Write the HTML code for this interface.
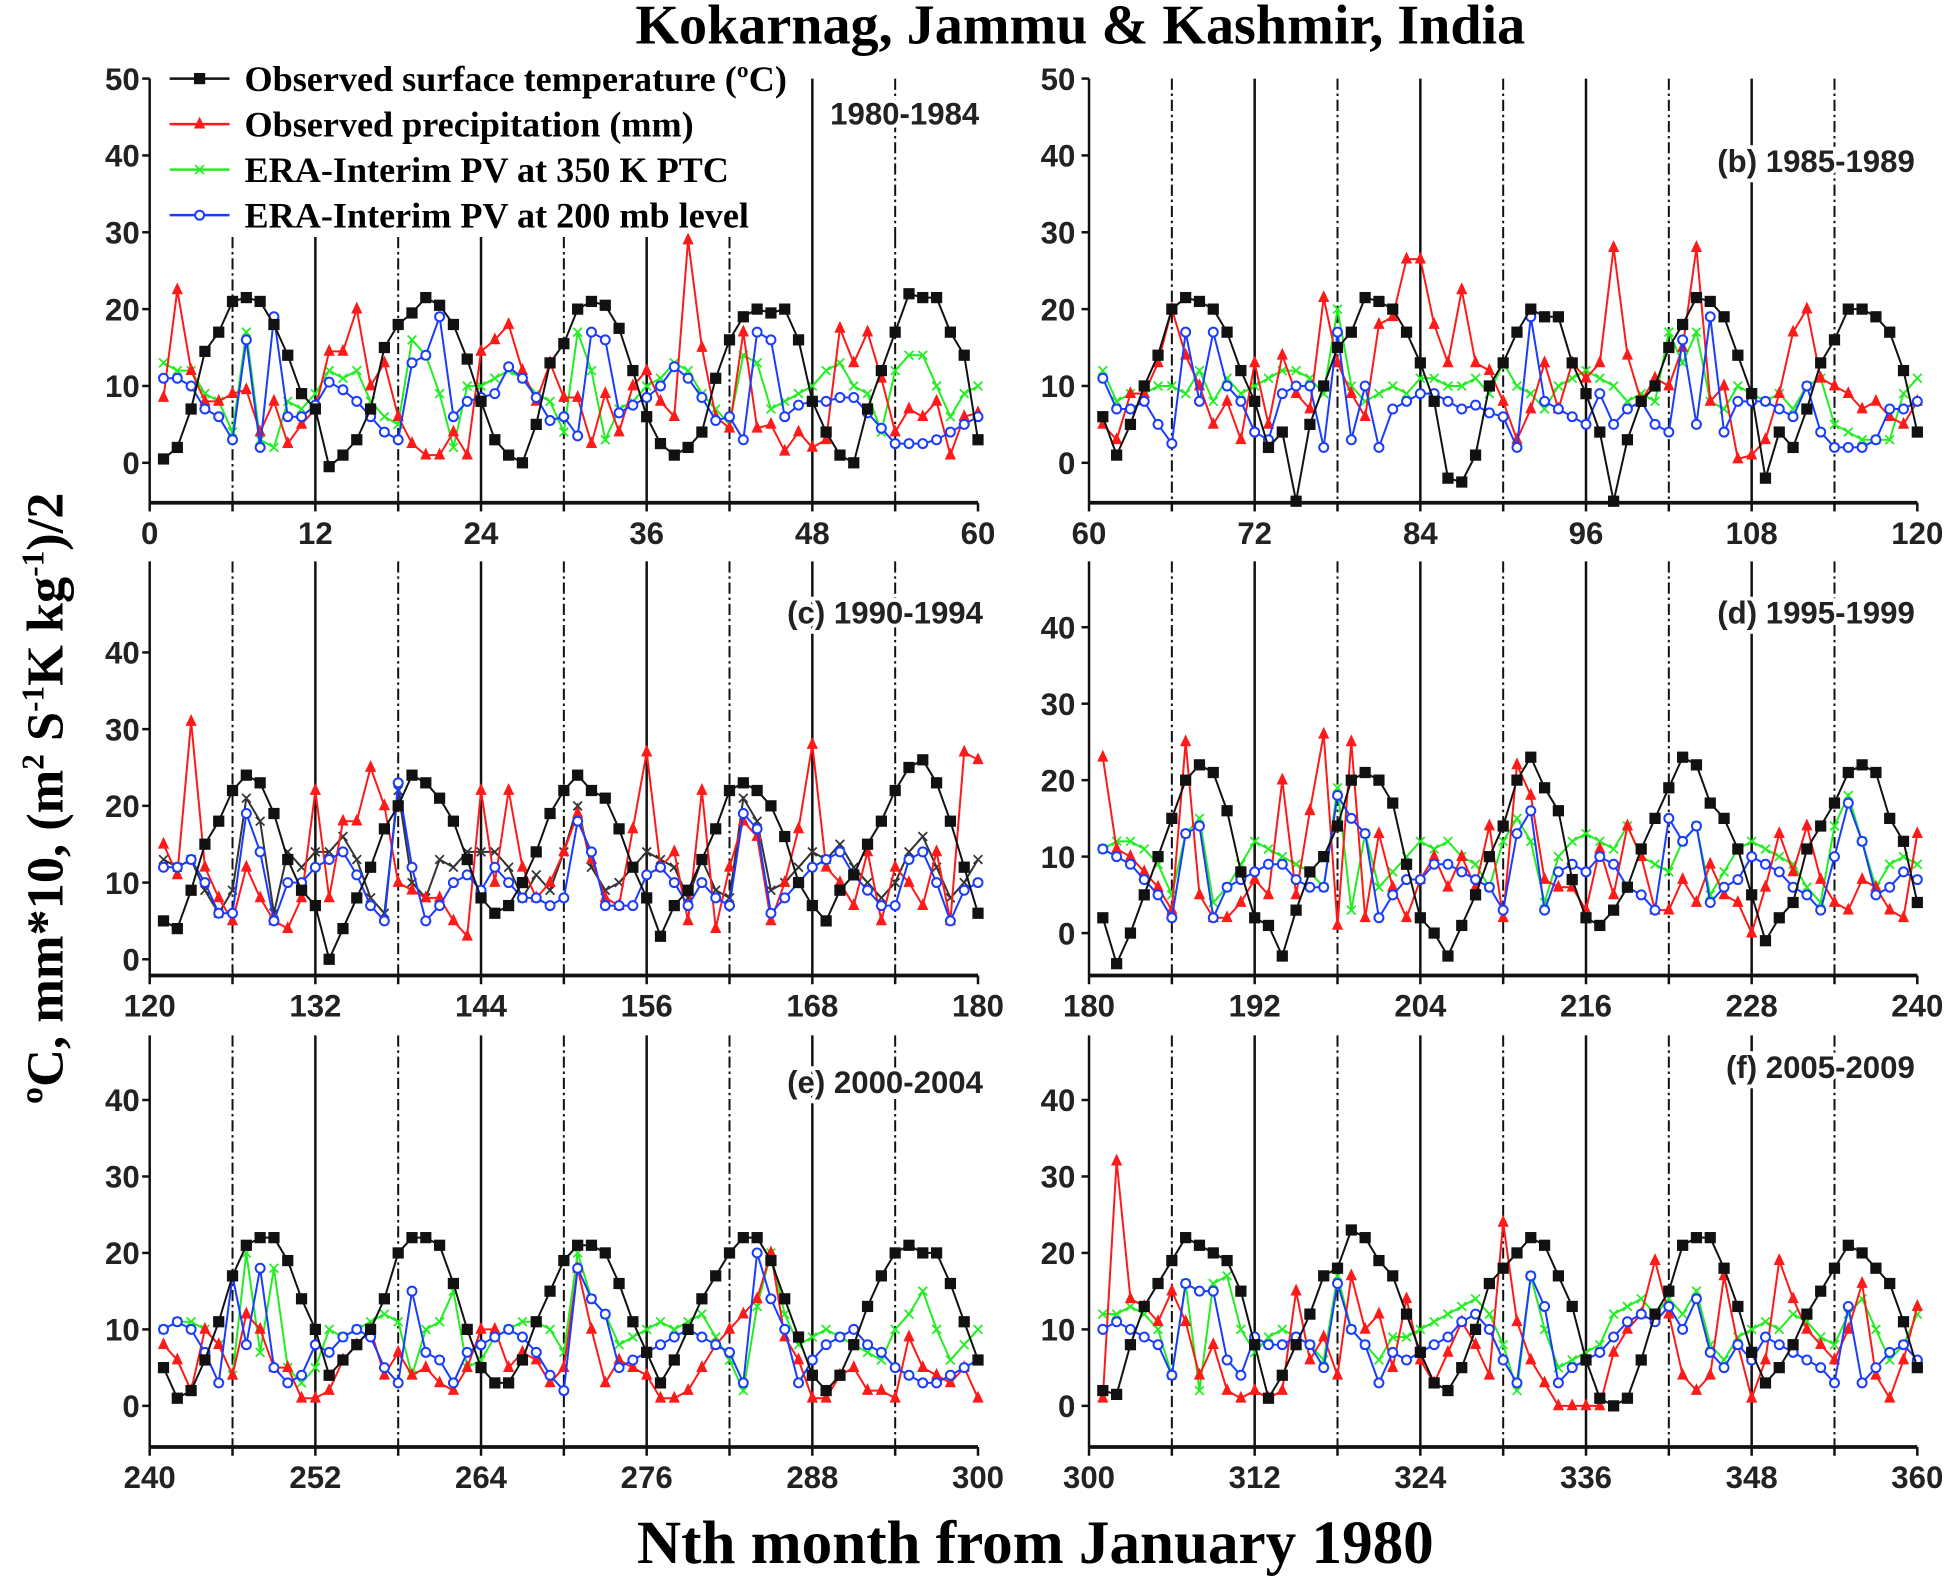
<!DOCTYPE html>
<html><head><meta charset="utf-8"><style>
html,body{margin:0;padding:0;background:#fff;}
svg{display:block;}
.tk{font-family:"Liberation Sans",sans-serif;font-weight:bold;font-size:25px;fill:#222;}
.lg{font-family:"Liberation Serif",serif;font-weight:bold;font-size:29px;fill:#000;}
</style></head><body>
<svg id="chart" width="1956" height="1583" viewBox="0 0 1568 1269" xmlns="http://www.w3.org/2000/svg">
<text x="866" y="35" text-anchor="middle" font-family="Liberation Serif, serif" font-weight="bold" font-size="45">Kokarnag, Jammu &amp; Kashmir, India</text>
<text transform="translate(50,640) rotate(-90)" text-anchor="middle" font-family="Liberation Serif, serif" font-weight="bold" font-size="42">ºC, mm*10, (m<tspan font-size="25" dy="-15">2</tspan><tspan dy="15"> S</tspan><tspan font-size="25" dy="-15">-1</tspan><tspan dy="15">K kg</tspan><tspan font-size="25" dy="-15">-1</tspan><tspan dy="15">)/2</tspan></text>
<text x="830" y="1253" text-anchor="middle" font-family="Liberation Serif, serif" font-weight="bold" font-size="49">Nth month from January 1980</text>
<g id="panels"></g>
</svg>
<script>
const panelStarts=[0,60,120,180,240,300];
const panelLabels=["1980-1984","(b) 1985-1989","(c) 1990-1994","(d) 1995-1999","(e) 2000-2004","(f) 2005-2009"];
const yTicksTop=[0,10,20,30,40,50];
const yTicksLow=[0,10,20,30,40];
const tempA=[0.5,2,7,14.5,17,21,21.5,21,18,14,9,7,-0.5,1,3,7,15,18,19.5,21.5,20.5,18,13.5,8,3,1,0,5,13,15.5,20,21,20.5,17.5,12,6,2.5,1,2,4,11,16,19,20,19.5,20,16,8,4,1,0,7,12,17,22,21.5,21.5,17,14,3];
const precA=[8.5,22.5,12,8,8,9,9.5,4,8,2.5,5,7,14.5,14.5,20,10,13,6,2.5,1,1,4,1,14.5,16,18,12,8,13,8.5,8.5,2.5,9,4,10,12,8,6,29,15,6,4.5,17,4.5,5,1.5,4,2,3,17.5,13,17,11,4,7,6,8,1,6,6.5];
const pv350A=[13,12,12,9,8,4,17,3,2,8,7,9,12,11,12,8,6,5,16,14,9,2,10,10,11,12,11,9,8,4,17,12,3,7,8,10,11,13,12,9,7,5,14,13,7,8,9,10,12,13,10,9,4,12,14,14,10,6,9,10];
const pv200A=[11,11,10,7,6,3,16,2,19,6,6,7.5,10.5,9.5,8,6,4,3,13,14,19,6,8,8.5,9,12.5,11,8.5,5.5,6,3.5,17,16,6.5,7.5,8.5,10,12.5,11,8.5,5.5,6,3,17,16,6,7.5,8,8,8.5,8.5,6.5,4.5,2.5,2.5,2.5,3,4,5,6];
const tempB=[6,1,5,10,14,20,21.5,21,20,17,12,8,2,4,-5,5,10,15,17,21.5,21,20,17,13,8,-2,-2.5,1,10,13,17,20,19,19,13,9,4,-5,3,8,10,15,18,21.5,21,19,14,9,-2,4,2,7,13,16,20,20,19,17,12,4];
const precB=[5,3,9,9,13,20,14,10,5,8,3,13,5,14,9,7,21.5,13,9,6,18,19,26.5,26.5,18,13,22.5,13,12,8,3,7,13,7,13,11,13,28,14,8,11,10,15,28,8,10,0.5,1,3,9,17,20,11,10,9,7,8,6,5,8];
const pv350B=[12,8,9,9,10,10,9,12,8,11,9,10,11,12,12,11,9,20,10,8,9,10,9,11,11,10,10,11,9,13,10,9,7,10,11,12,11,10,8,9,8,17,13,17,8,7,10,9,8,9,7,10,11,5,4,3,3,3,9,11];
const pv200B=[11,7,7,8,5,2.5,17,8,17,10,8,4,3,9,10,10,2,17,3,10,2,7,8,9,9,8,7,7.5,6.5,6,2,19,8,7,6,5,9,5,7,8,5,4,16,5,19,4,8,8,8,7,6,10,4,2,2,2,3,7,7,8];
const tempC=[5,4,9,15,18,22,24,23,19,13,9,7,0,4,8,12,17,20,24,23,21,18,13,8,6,7,10,14,19,22,24,22,21,17,12,8,3,7,9,13,17,22,23,22,20,16,10,7,5,9,11,15,18,22,25,26,23,18,12,6];
const precC=[15,11,31,12,8,5,12,8,5,4,8,22,8,18,18,25,20,10,9,8,8,5,3,22,10,22,12,8,10,14,19,13,8,7,17,27,12,14,5,22,4,12,18,16,5,10,17,28,12,10,7,14,5,12,10,7,14,5,27,26];
const pv350C=[13,12,13,9,6,9,21,18,6,14,12,14,14,16,13,8,6,22,10,8,13,12,14,14,14,12,8,11,9,14,20,12,9,10,12,14,13,12,8,13,9,8,21,18,9,10,12,14,13,15,12,10,8,10,14,16,12,8,10,13];
const pv200C=[12,12,13,10,6,6,19,14,5,10,10,12,13,14,11,7,5,23,12,5,7,10,11,9,12,10,8,8,7,8,18,14,7,7,7,11,12,10,7,10,8,7,19,17,6,8,10,12,13,14,11,9,7,7,13,14,10,5,9,10];
const tempD=[2,-4,0,5,10,15,20,22,21,16,8,2,1,-3,3,8,10,14,20,21,20,17,9,2,0,-3,1,5,10,14,20,23,19,16,7,2,1,3,6,11,15,19,23,22,17,15,11,5,-1,2,4,11,14,17,21,22,21,15,12,4];
const precD=[23,11,10,8,6,3,25,5,2,2,4,7,5,20,5,16,26,1,25,2,13,6,2,7,10,6,10,6,14,2,22,18,7,6,6,3,11,5,14,10,3,3,7,4,9,5,4,0,6,13,8,14,7,4,3,7,6,3,2,13];
const pv350D=[11,12,12,11,9,5,13,15,4,6,9,12,11,10,9,8,6,19,3,13,6,8,10,12,11,12,10,9,6,12,15,12,4,10,12,13,12,11,14,10,9,8,12,14,5,8,11,12,11,10,9,6,4,14,18,12,6,9,10,9];
const pv200D=[11,10,9,7,5,2,13,14,2,6,7,8,9,9,7,6,6,18,15,13,2,5,7,7,9,9,8,7,6,3,13,16,3,8,9,8,10,9,6,5,3,15,12,14,4,6,7,10,9,8,6,5,3,10,17,12,5,6,8,7];
const tempE=[5,1,2,6,11,17,21,22,22,19,14,10,4,6,8,10,14,20,22,22,21,16,10,5,3,3,6,11,15,19,21,21,20,16,11,7,3,6,10,14,17,20,22,22,19,14,9,4,2,4,8,13,17,20,21,20,20,16,11,6];
const precE=[8,6,2,10,8,4,12,10,5,5,1,1,2,6,8,10,4,7,4,5,3,2,5,10,10,5,7,6,3,5,18,10,3,6,5,4,1,1,2,5,8,10,12,14,20,9,6,1,1,4,5,2,2,1,9,5,4,3,5,1];
const pv350E=[10,11,11,10,8,4,20,7,18,5,3,5,10,9,10,11,12,11,4,10,11,15,5,6,9,10,11,11,10,7,20,14,12,8,9,10,11,10,11,12,9,6,2,13,20,12,8,9,10,9,8,7,6,10,12,15,10,6,8,10];
const pv200E=[10,11,10,7,3,17,8,18,5,3,4,8,7,9,10,9,5,3,15,7,6,3,7,8,9,10,9,7,4,2,18,14,12,5,6,7,8,9,10,9,8,7,3,20,14,10,3,6,8,9,10,8,7,5,4,3,3,4,5,6];
const tempF=[2,1.5,8,13,16,19,22,21,20,19,15,8,1,4,8,12,17,18,23,22,19,17,12,7,3,2,5,10,16,18,20,22,21,17,13,6,1,0,1,6,12,15,21,22,22,18,13,7,3,5,8,12,15,18,21,20,18,16,11,5];
const precF=[1,32,14,13,11,15,11,4,8,2,1,2,1,2,15,6,9,4,17,10,12,5,14,6,3,7,11,8,4,24,11,6,3,0,0,0,0,7,10,12,19,12,4,2,4,17,8,1,6,19,14,10,8,6,10,16,4,1,6,13];
const pv350F=[12,12,13,12,10,4,16,2,16,17,10,7,9,10,9,8,6,17,10,8,6,9,9,10,11,12,13,14,12,8,2,17,10,5,6,7,8,12,13,14,12,14,12,15,8,6,9,10,11,10,12,11,9,8,12,14,10,6,8,12];
const pv200F=[10,11,10,9,8,4,16,15,15,6,4,9,8,8,9,8,5,16,10,8,3,7,6,7,8,9,11,12,10,6,3,17,13,3,5,6,7,9,11,12,11,13,10,14,7,5,8,6,9,8,7,6,5,3,13,3,5,7,8,6];
const tempAll=[tempA,tempB,tempC,tempD,tempE,tempF];
const precAll=[precA,precB,precC,precD,precE,precF];
const pv350All=[pv350A,pv350B,pv350C,pv350D,pv350E,pv350F];
const pv200All=[pv200A,pv200B,pv200C,pv200D,pv200E,pv200F];

const NS="http://www.w3.org/2000/svg";
const root=document.getElementById('panels');
function mk(tag,attrs,parent){const e=document.createElementNS(NS,tag);for(const k in attrs)e.setAttribute(k,attrs[k]);(parent||root).appendChild(e);return e;}
const geo=[
 {x0:120,x1:784,y0:371,y10:61.6,axY:403,top:63,vtop:190,lab:[785,100],ticks:yTicksTop,tx:112},
 {x0:873,x1:1537,y0:371,y10:61.6,axY:403,top:63,vtop:63,lab:[1535,138],ticks:yTicksTop,tx:862},
 {x0:120,x1:784,y0:769,y10:61.5,axY:782,top:450,vtop:450,lab:[788,500],ticks:yTicksLow,tx:112},
 {x0:873,x1:1537,y0:748,y10:61.3,axY:782,top:450,vtop:450,lab:[1535,500],ticks:yTicksLow,tx:862},
 {x0:120,x1:784,y0:1127,y10:61.3,axY:1160,top:830,vtop:830,lab:[788,876],ticks:yTicksLow,tx:112},
 {x0:873,x1:1537,y0:1127,y10:61.3,axY:1160,top:830,vtop:830,lab:[1535,864],ticks:yTicksLow,tx:862}];
panelStarts.forEach((s,p)=>{
 const g=geo[p];
 const pg=mk('g',{});
 
 
 const X=m=>g.x0+(m-s)/60*(g.x1-g.x0);
 const Y=v=>g.y0-v*g.y10/10;
 for(let k=1;k<10;k++){
  const m=s+k*6;const solid=k%2===0;
  const l=mk('line',{x1:X(m),x2:X(m),y1:g.vtop,y2:g.axY,stroke:'#111','stroke-width':solid?2:1.6,'stroke-dasharray':solid?'none':'9,3,2,3'},pg);
  
  
 }
 if(p===0){for(const m of [48,54]){const l=mk('line',{x1:X(m),x2:X(m),y1:63,y2:190,stroke:'#111','stroke-width':m===48?2:1.6,'stroke-dasharray':m===48?'none':'9,3,2,3'},pg);}}
 mk('line',{x1:g.x0,x2:g.x0,y1:g.top,y2:g.axY,stroke:'#111','stroke-width':2},pg);
 const ax=mk('line',{x1:g.x0,x2:g.x1,y1:g.axY,y2:g.axY,stroke:'#111','stroke-width':3},pg);
 
 
 for(let k=0;k<=10;k++){const m=s+k*6;mk('line',{x1:X(m),x2:X(m),y1:g.axY,y2:g.axY+7,stroke:'#111','stroke-width':2},pg);
  if(k%2===0){const t=mk('text',{x:X(m),y:g.axY+33,'text-anchor':'middle',class:'tk'},pg);t.textContent=m;}}
 g.ticks.forEach(v=>{mk('line',{x1:g.x0-6,x2:g.x0,y1:Y(v),y2:Y(v),stroke:'#111','stroke-width':2},pg);
  const t=mk('text',{x:g.tx,y:Y(v)+9,'text-anchor':'end',class:'tk'},pg);t.textContent=v;});
 const lt=mk('text',{x:g.lab[0],y:g.lab[1],'text-anchor':'end',class:'tk',stroke:'#fff','stroke-width':6,'paint-order':'stroke'},pg);
 lt.textContent=panelLabels[p];
 
 
 const series=[
  {d:pv350All[p],c:p===2?'#333':'#22ee22',m:'x',n:'pv350-series'},
  {d:precAll[p],c:'#ff1a1a',m:'tri',n:'precip-series'},
  {d:pv200All[p],c:'#1a3cff',m:'o',n:'pv200-series'},
  {d:tempAll[p],c:'#111',m:'sq',n:'temp-series'}];
 series.forEach(se=>{
  const sg=mk('g',{},pg);
  
  
  const pts=se.d.map((v,i)=>[X(s+i+1),Y(v)]);
  mk('polyline',{points:pts.map(q=>q.join(',')).join(' '),fill:'none',stroke:se.c,'stroke-width':1.6},sg);
  pts.forEach(q=>{
   let e;
   if(se.m==='sq')e=mk('rect',{x:q[0]-4.5,y:q[1]-4.5,width:9,height:9,fill:se.c},sg);
   else if(se.m==='tri')e=mk('polygon',{points:`${q[0]},${q[1]-6} ${q[0]-4.5},${q[1]+3.5} ${q[0]+4.5},${q[1]+3.5}`,fill:se.c},sg);
   else if(se.m==='o')e=mk('circle',{cx:q[0],cy:q[1],r:3.6,fill:'#fff',stroke:se.c,'stroke-width':1.6},sg);
   else e=mk('path',{d:`M${q[0]-3.5},${q[1]-3.5}L${q[0]+3.5},${q[1]+3.5}M${q[0]-3.5},${q[1]+3.5}L${q[0]+3.5},${q[1]-3.5}`,stroke:se.c,'stroke-width':1.4},sg);
   
   
  });
 });
});
const lg=mk('g',{});


mk('rect',{x:126,y:44,width:520,height:143,fill:'#fff'},lg);
const legItems=[['Observed surface temperature (ºC)','#111','sq'],['Observed precipitation (mm)','#ff1a1a','tri'],['ERA-Interim PV at 350 K PTC','#22ee22','x'],['ERA-Interim PV at 200 mb level','#1a3cff','o']];
legItems.forEach((it,i)=>{
 const y=63+i*36.5;
 const eg=mk('g',{},lg);
 
 
 mk('line',{x1:136,x2:184,y1:y,y2:y,stroke:it[1],'stroke-width':2},eg);
 const cx=160;
 if(it[2]==='sq')mk('rect',{x:cx-4.5,y:y-4.5,width:9,height:9,fill:it[1]},eg);
 else if(it[2]==='tri')mk('polygon',{points:`${cx},${y-6} ${cx-4.5},${y+3.5} ${cx+4.5},${y+3.5}`,fill:it[1]},eg);
 else if(it[2]==='o')mk('circle',{cx:cx,cy:y,r:3.6,fill:'#fff',stroke:it[1],'stroke-width':1.6},eg);
 else mk('path',{d:`M${cx-3.5},${y-3.5}L${cx+3.5},${y+3.5}M${cx-3.5},${y+3.5}L${cx+3.5},${y-3.5}`,stroke:it[1],'stroke-width':1.4},eg);
 const t=mk('text',{x:196,y:y+10,class:'lg'},eg);t.textContent=it[0];
});
</script>
</body></html>
